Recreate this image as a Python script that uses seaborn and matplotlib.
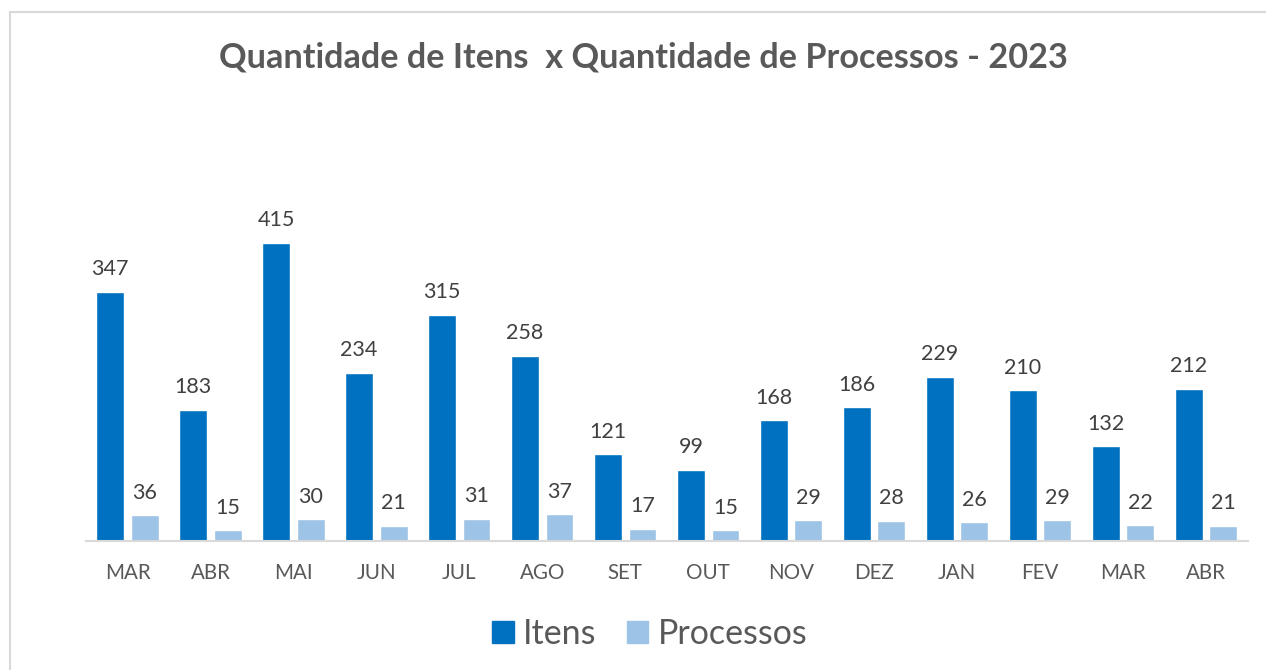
import matplotlib
matplotlib.use("Agg")
import matplotlib.pyplot as plt
import seaborn as sns
import pandas as pd
from matplotlib.patches import Rectangle

meses = ["MAR", "ABR", "MAI", "JUN", "JUL", "AGO", "SET", "OUT", "NOV", "DEZ", "JAN", "FEV", "MAR", "ABR"]
itens = [347, 183, 415, 234, 315, 258, 121, 99, 168, 186, 229, 210, 132, 212]
processos = [36, 15, 30, 21, 31, 37, 17, 15, 29, 28, 26, 29, 22, 21]
series = ["Itens", "Processos"]
cores = ["#0070C0", "#9DC3E6"]

rows = []
for i, m in enumerate(meses):
    rows.append({"pos": i, "mes": m, "serie": series[0], "valor": itens[i]})
    rows.append({"pos": i, "mes": m, "serie": series[1], "valor": processos[i]})
df = pd.DataFrame(rows)

sns.set_theme(style="white")
plt.rcParams['font.family'] = ['Lato', 'DejaVu Sans']

W, H = 1266, 670
fig = plt.figure(figsize=(W / 100, H / 100), dpi=100)
ax = fig.add_axes([86 / W, 1 - 541 / H, (1247.5 - 86) / W, 431 / H])

sns.barplot(data=df, x="pos", y="valor", hue="serie", hue_order=series,
            palette=cores, width=0.83, gap=0.19, ax=ax, saturation=1,
            legend=False, native_scale=False)

ax.set_ylim(0, 600)
ax.set_xlim(-0.5, len(meses) - 0.5)
for c in ax.containers:
    ax.bar_label(c, fmt="%d", padding=9, fontsize=15.5, color="#404040")

ax.set_xticks(range(len(meses)))
ax.set_xticklabels(meses, fontsize=14.8, color="#595959")
ax.tick_params(axis="x", length=0, pad=16)
ax.set_yticks([])
ax.set_xlabel("")
ax.set_ylabel("")
for s in ["top", "right", "left"]:
    ax.spines[s].set_visible(False)
ax.spines["bottom"].set_color("#D9D9D9")
ax.spines["bottom"].set_linewidth(1.5)

fig.text(643 / W, 1 - 57 / H, "Quantidade de Itens  x Quantidade de Processos - 2023",
         ha="center", va="center", fontsize=24.7, fontweight="bold", color="#595959")

handles = [Rectangle((0, 0), 1, 1, color=c) for c in cores]
fig.legend(handles, series, loc="center", bbox_to_anchor=(650 / W, 1 - 634 / H),
           ncol=2, frameon=False, fontsize=24.5, labelcolor="#595959",
           handlelength=0.62, handleheight=0.62, handletextpad=0.28, columnspacing=0.9)

fig.patches.append(Rectangle((10 / W, -0.05), 1.2, 1 - 12 / H + 0.05,
                             transform=fig.transFigure, fill=False,
                             edgecolor="#D9D9D9", linewidth=1.5))

fig.savefig("out.png", dpi=100)
